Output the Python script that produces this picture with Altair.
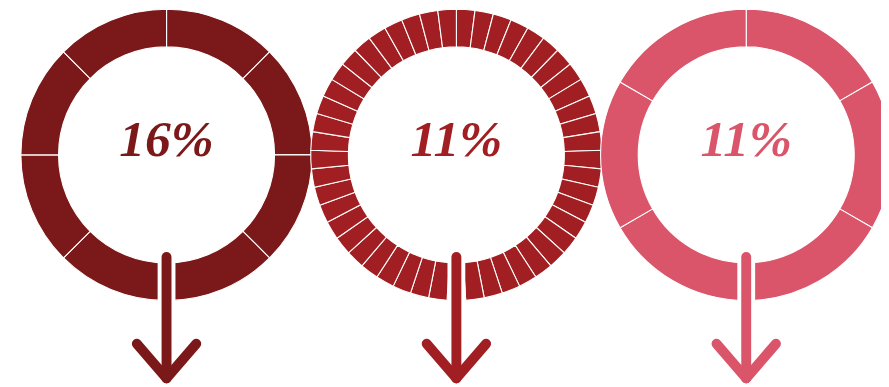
import math
import altair as alt
import pandas as pd

# ---- data ----
rings = [1, 2, 3]
labels = ["16%", "11%", "11%"]
segments = [8, 49, 6]
colors = ["#7B191A", "#A11F22", "#DA546A"]

ring_df = pd.DataFrame({"ring": rings, "label": labels, "color": colors})

rows = []
for r, n, c in zip(rings, segments, colors):
    for k in range(n):
        rows.append({"ring": r, "a0": k * 360 / n, "a1": (k + 1) * 360 / n, "color": c})
seg_df = pd.DataFrame(rows)

W, H = 881, 379
xs = alt.Scale(domain=[0.453, 3.465], range=[0, W], zero=False, nice=False)
ts = alt.Scale(domain=[0, 360], range=[0, 2 * math.pi], zero=False, nice=False)
X = alt.X("ring:Q", scale=xs, axis=None, stack=None)
col = alt.Color("color:N", scale=None, legend=None)

CY = 146.5

donuts = alt.Chart(seg_df).mark_arc(
    radius=147, radius2=109, stroke="white", strokeWidth=1.1
).encode(
    x=X, y=alt.value(CY),
    theta=alt.Theta("a0:Q", scale=ts, stack=None), theta2="a1:Q",
    color=col,
)

base = alt.Chart(ring_df)

halo = base.mark_rule(strokeWidth=18, color="white", strokeCap="butt").encode(
    x=X, y=alt.value(249.5), y2=alt.value(310)
)
shaft = base.mark_rule(strokeWidth=10, strokeCap="round").encode(
    x=X, y=alt.value(249.5), y2=alt.value(372), color=col
)
arm_l = base.mark_rule(strokeWidth=10, strokeCap="round", xOffset=-30).encode(
    x=X, x2="ring:Q", y=alt.value(337), y2=alt.value(372), color=col
)
arm_r = base.mark_rule(strokeWidth=10, strokeCap="round", xOffset=30).encode(
    x=X, x2="ring:Q", y=alt.value(337), y2=alt.value(372), color=col
)
text = base.mark_text(
    font="Liberation Serif", fontSize=52, fontWeight="bold", fontStyle="italic",
    baseline="alphabetic", align="center"
).encode(x=X, y=alt.value(148), text="label:N", color=col)

chart = alt.layer(donuts, halo, shaft, arm_l, arm_r, text).properties(
    width=W, height=H, padding=0,
    autosize=alt.AutoSizeParams(type="none"),
).configure_view(strokeWidth=0)

chart.save("out.html", embed_options={"renderer": "svg", "actions": False})
